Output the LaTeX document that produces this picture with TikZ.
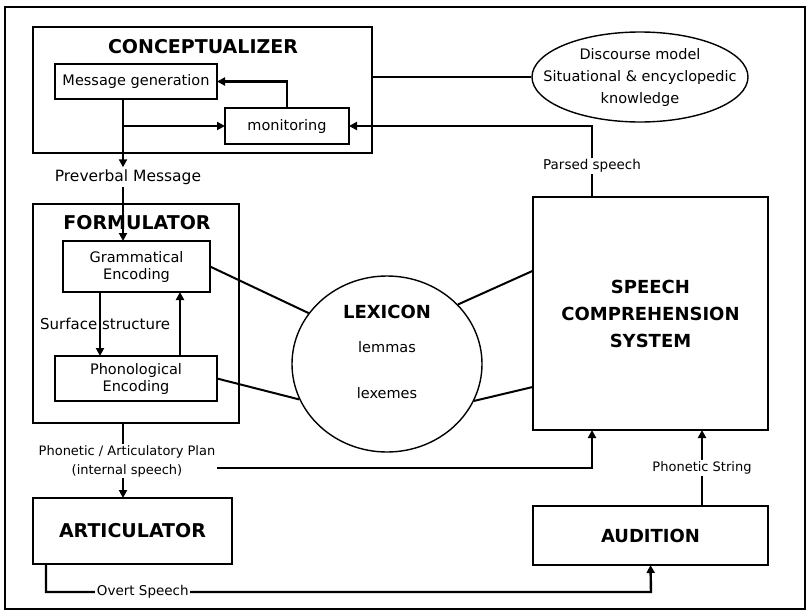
\documentclass[tikz,border=0pt]{standalone}
\usepackage{fontspec}
\setmainfont{DejaVu Sans}
\usepackage{tikz}
\usetikzlibrary{positioning,arrows.meta,shapes.geometric,calc}

\begin{document}
\begin{tikzpicture}[x=1pt,y=-1pt,
  box/.style={draw,line width=1.8pt,outer sep=0pt,inner sep=1pt,align=center,font=\fontsize{14.5}{17}\selectfont},
  big/.style={font=\bfseries\fontsize{19}{22}\selectfont,inner sep=0pt},
  lbl/.style={fill=white,inner sep=1.5pt,align=center,font=\fontsize{13.5}{15}\selectfont},
  conn/.style={line width=2.4pt},
  arr/.style={conn,-{Triangle[length=8pt,width=8pt]}}]
\useasboundingbox (0,0) rectangle (808,613);
\draw[line width=2pt] (5,7) rectangle (805,609);
% conceptualizer
\node[box,minimum width=339pt,minimum height=126pt] (concept) at (202.5,90) {};
\node[big] (conceptT) at (203,47) {CONCEPTUALIZER};
\node[box,minimum width=162pt,minimum height=35pt] (mg) at (136,81.5) {Message generation};
\node[box,minimum width=124pt,minimum height=36pt] (mon) at (287,126) {monitoring};
\node[ellipse,draw,line width=1.4pt,minimum width=216pt,minimum height=90pt,inner sep=0pt] (disc) at (640,77) {};
\node[align=center,inner sep=0pt,font=\fontsize{14.5}{22}\selectfont] (discT) at (640,77) {Discourse model\\Situational \& encyclopedic\\knowledge};
\node[font=\fontsize{15.5}{18}\selectfont,inner sep=2pt] (prev) at (128,177) {Preverbal Message};
% formulator
\node[box,minimum width=206pt,minimum height=219pt] (form) at (136,313.5) {};
\node[big] (formT) at (137,223) {FORMULATOR};
\node[box,minimum width=147pt,minimum height=51pt] (gram) at (136.5,266.5) {Grammatical\\Encoding};
\node[box,minimum width=162pt,minimum height=45pt] (phono) at (136,378.5) {Phonological\\Encoding};
\node[anchor=west,inner sep=0pt,font=\fontsize{15}{17}\selectfont] (surf) at (40,324) {Surface structure};
% lexicon
\node[ellipse,draw,line width=1.4pt,minimum width=190pt,minimum height=176pt] (lex) at (387,364) {};
\node[big,font=\bfseries\fontsize{18}{20}\selectfont] (lexT) at (387,312) {LEXICON};
\node[font=\fontsize{14.5}{16}\selectfont] (lem) at (387,347) {lemmas};
\node[font=\fontsize{14.5}{16}\selectfont] (lxm) at (387,393) {lexemes};
% comprehension, articulator, audition
\node[box,minimum width=235pt,minimum height=233pt,font=\bfseries\fontsize{18}{27}\selectfont] (scs) at (650.5,313.5) {SPEECH\\COMPREHENSION\\SYSTEM};
\node[box,minimum width=199pt,minimum height=66pt,font=\bfseries\fontsize{19}{22}\selectfont] (artic) at (132.5,531) {ARTICULATOR};
\node[box,minimum width=235pt,minimum height=59pt,font=\bfseries\fontsize{18}{22}\selectfont] (audit) at (650.5,535.5) {AUDITION};
\node[lbl,fill=none,font=\fontsize{13}{19}\selectfont] (plan) at (127,461) {Phonetic / Articulatory Plan\\(internal speech)};
\coordinate (spine) at (123,0);
\coordinate (ssL) at (100,0);
\coordinate (ssR) at (180,0);
\coordinate (ov) at (651,592);

% connectors
\draw[arr] (spine |- mg.south) -- (spine |- prev.north);
\draw[arr] (spine |- mon.west) -- (mon.west);
\draw[arr] (mon.north) |- (mg.east);
\draw[conn] (disc.west) -- (disc.west -| concept.east);
\draw[arr] ([xshift=-58.5pt]scs.north) |- node[lbl,pos=0.22]{Parsed speech} (mon.east);
\draw[arr] (spine |- prev.south) -- (spine |- gram.north);
\draw[arr] (ssL |- gram.south) -- (ssL |- phono.north);
\draw[arr] (ssR |- phono.north) -- (ssR |- gram.south);
\draw[line width=2pt] (gram.east) -- (lex.147);
\draw[line width=2pt] (phono.east) -- (lex.202);
\draw[line width=2pt] (lex.40) -- (scs.160);
\draw[line width=2pt] (lex.337) -- (scs.212);
\draw[conn] (spine |- form.south) -- (spine |- plan.north);
\draw[arr] (spine |- plan.south) -- (spine |- artic.north);
\draw[arr] ([yshift=-7pt]plan.east) -| ([xshift=-58.5pt]scs.south);
\draw[arr] ([xshift=51.5pt]audit.north) -- node[lbl,font=\fontsize{13}{15}\selectfont]{Phonetic String} ([xshift=51.5pt]scs.south);
\draw[arr] ([xshift=13pt]artic.south west) |- node[lbl,pos=0.58]{Overt Speech} (ov) -- (audit.south);
\end{tikzpicture}
\end{document}
